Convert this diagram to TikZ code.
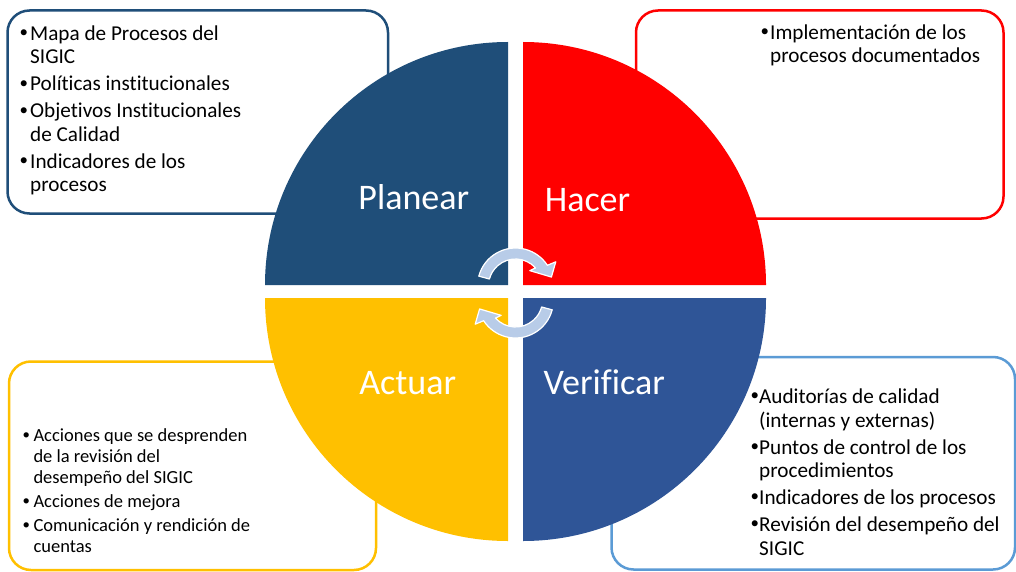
\documentclass[tikz,border=0pt]{standalone}
\usepackage{fontspec}
\usepackage{graphicx}
\setmainfont{Carlito}[Ligatures=NoCommon]
\definecolor{pblue}{HTML}{1F4E79}
\definecolor{hred}{HTML}{FF0000}
\definecolor{ayel}{HTML}{FFC000}
\definecolor{vblue}{HTML}{2F5597}
\definecolor{vbox}{HTML}{5B9BD5}
\definecolor{arrfill}{HTML}{B8CCE8}
\newcommand{\bitem}[2]{\makebox[#1][l]{\hspace*{1.5pt}\raisebox{0.12em}{\scalebox{0.8}{\textbullet}}}#2}
\newcommand{\cont}[2]{\hspace*{#1}#2}
\begin{document}
\begin{tikzpicture}[x=1pt,y=-1pt,
  boxsty/.style={line width=2.5pt, rounded corners=22pt},
  bigtxt/.style={font=\fontsize{21.2}{23.5}\selectfont, anchor=north west, inner sep=0pt, align=left},
  smalltxt/.style={font=\fontsize{18.5}{20.8}\selectfont, anchor=north west, inner sep=0pt, align=left},
  qlabel/.style={font=\fontsize{36}{40}\selectfont, text=white, anchor=base, inner sep=0pt},
  arrsty/.style={fill=arrfill, draw=white, line width=1.2pt, line join=round}]
\useasboundingbox (0,0) rectangle (1016,572);
\fill[white] (0,0) rectangle (1016,572);

% boxes
\draw[boxsty, draw=pblue] (7.5,10.5) rectangle (388,213.5);
\draw[boxsty, draw=hred] (636,10.5) rectangle (1003.5,218.5);
\draw[boxsty, draw=ayel] (9,361.5) rectangle (376,570);
\draw[boxsty, draw=vbox] (611.5,357) rectangle (1015,569.5);

% quadrants
\fill[pblue] (508,285) -- ++(-243,0) arc[start angle=180, end angle=270, radius=243] -- cycle;
\fill[hred] (523,285) -- ++(0,-243) arc[start angle=270, end angle=360, radius=243] -- cycle;
\fill[vblue] (523,298) -- ++(243,0) arc[start angle=0, end angle=90, radius=243] -- cycle;
\fill[ayel] (508,298) -- ++(0,243) arc[start angle=90, end angle=180, radius=243] -- cycle;

% quadrant labels
\node[qlabel] (lplanear) at (413.8,209.3) {Planear};
\node[qlabel] (lhacer) at (587.5,211.7) {Hacer};
\node[qlabel] (lactuar) at (407.7,394.3) {Actuar};
\node[qlabel] (lverificar) at (604.2,394.3) {Verificar};

% circular arrows
\begin{scope}[shift={(515.5,286)}, yscale=-1]
\filldraw[arrsty] (165:38) arc[start angle=165, end angle=33, radius=38] -- (31:47) -- (14:37) -- (47:21) -- (42:27) arc[start angle=42, end angle=165, radius=27] -- cycle;
\end{scope}
\begin{scope}[shift={(515.5,300)}, yscale=-1, rotate=180]
\filldraw[arrsty] (165:38) arc[start angle=165, end angle=33, radius=38] -- (31:47) -- (14:37) -- (47:21) -- (42:27) arc[start angle=42, end angle=165, radius=27] -- cycle;
\end{scope}

% texts
\node[bigtxt] (tplanear) at (18,24) {\rule{0pt}{16pt}\bitem{12pt}{Mapa de Procesos del}\\
\cont{12pt}{SIGIC}\\[3.5pt]
\bitem{12pt}{Políticas institucionales}\\[3.5pt]
\bitem{12pt}{Objetivos Institucionales}\\
\cont{12pt}{de Calidad}\\[3.5pt]
\bitem{12pt}{Indicadores de los}\\
\cont{12pt}{procesos}};

\node[bigtxt] (thacer) at (759,23.3) {\rule{0pt}{16pt}\bitem{11pt}{Implementación de los}\\
\cont{11pt}{procesos documentados}};

\node[bigtxt] (tverificar) at (749,387.3) {\rule{0pt}{16pt}\bitem{10pt}{Auditorías de calidad}\\
\cont{10pt}{(internas y externas)}\\[3.5pt]
\bitem{10pt}{Puntos de control de los}\\
\cont{10pt}{procedimientos}\\[3.5pt]
\bitem{10pt}{Indicadores de los procesos}\\[3.5pt]
\bitem{10pt}{Revisión del desempeño del}\\
\cont{10pt}{SIGIC}};

\node[smalltxt] (tactuar) at (21,427.2) {\rule{0pt}{14.5pt}\bitem{12.3pt}{Acciones que se desprenden}\\
\cont{12.3pt}{de la revisión del}\\
\cont{12.3pt}{desempeño del SIGIC}\\[3.2pt]
\bitem{12.3pt}{Acciones de mejora}\\[3.2pt]
\bitem{12.3pt}{Comunicación y rendición de}\\
\cont{12.3pt}{cuentas}};
\end{tikzpicture}
\end{document}
